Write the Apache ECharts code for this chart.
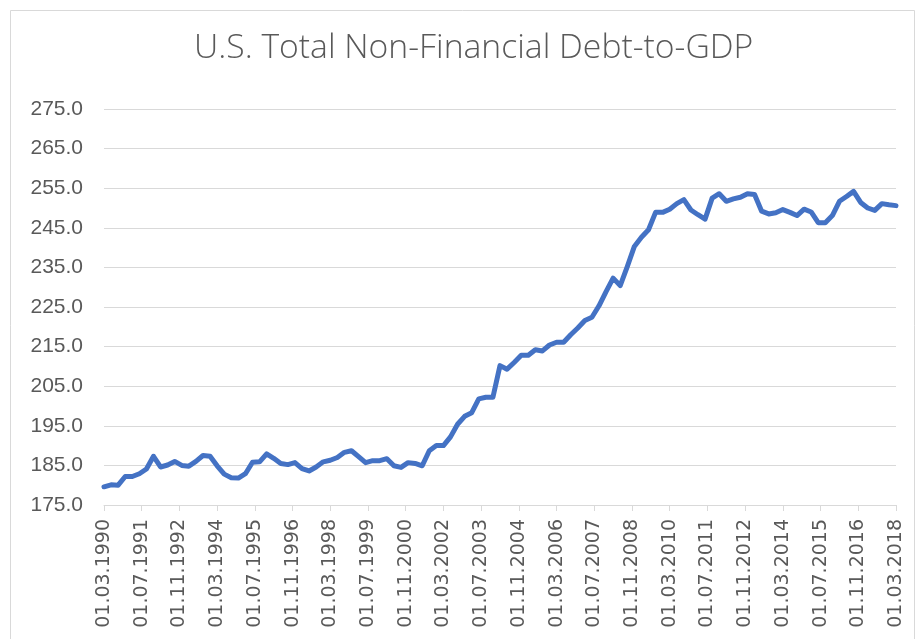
<!DOCTYPE html>
<html>
<head>
<meta charset="utf-8">
<script src="https://cdn.jsdelivr.net/npm/echarts@6/dist/echarts.min.js"></script>
<style>html,body{margin:0;padding:0;background:#fff}#c{width:915px;height:639px}</style>
</head>
<body>
<div id="c"></div>
<script>
var chartTitle = 'U.S. Total Non-Financial Debt-to-GDP';
var startYear = 1990, startMonth = 3, endYear = 2018, endMonth = 3;
var yTicks = [175, 275, 10];
// quarterly values, 01.03.1990 ... 01.03.2018
var debtToGdp = [
  179.6, 180.1, 180.0, 182.2, 182.2, 182.9, 184.1, 187.3, 184.6, 185.1,
  186.0, 185.0, 184.8, 186.0, 187.5, 187.3, 184.9, 182.8, 181.9, 181.8,
  182.9, 185.8, 185.9, 187.9, 186.8, 185.5, 185.2, 185.7, 184.2, 183.6,
  184.6, 185.9, 186.3, 187.0, 188.3, 188.7, 187.2, 185.7, 186.2, 186.2,
  186.7, 184.9, 184.5, 185.7, 185.5, 184.9, 188.7, 190.0, 190.0, 192.2,
  195.4, 197.4, 198.3, 201.8, 202.2, 202.2, 210.2, 209.3, 211.0, 212.8,
  212.8, 214.2, 213.9, 215.4, 216.1, 216.1, 218.0, 219.7, 221.6, 222.4,
  225.3, 228.9, 232.3, 230.4, 235.2, 240.3, 242.6, 244.5, 248.9, 248.9,
  249.7, 251.1, 252.1, 249.5, 248.3, 247.2, 252.5, 253.6, 251.7, 252.3,
  252.7, 253.6, 253.4, 249.2, 248.5, 248.8, 249.6, 248.9, 248.1, 249.7,
  249.0, 246.3, 246.3, 248.1, 251.7, 252.9, 254.2, 251.4, 250.0, 249.4,
  251.1, 250.8, 250.6
];

// monthly categories
var months = [];
var y = startYear, m = startMonth;
while (y < endYear || (y === endYear && m <= endMonth)) {
  months.push('01.' + (m < 10 ? '0' + m : '' + m) + '.' + y);
  m++; if (m > 12) { m = 1; y++; }
}
var seriesData = months.map(function (d, i) {
  return (i % 3 === 0) ? debtToGdp[i / 3] : null;
});

var chart = echarts.init(document.getElementById('c'));
chart.setOption({
  animation: false,
  backgroundColor: '#ffffff',
  title: {
    text: chartTitle,
    left: 189,
    top: 26,
    textStyle: { fontFamily: 'Open Sans', fontWeight: 300, fontSize: 33.7, color: '#595959' }
  },
  graphic: [{
    type: 'rect', silent: true, z: -1,
    shape: { x: 10.5, y: 10.5, width: 904, height: 640 },
    style: { fill: 'none', stroke: '#d9d9d9', lineWidth: 1 }
  }],
  grid: { left: 104, right: 19, top: 109, bottom: 134, containLabel: false },
  xAxis: {
    type: 'category',
    data: months,
    boundaryGap: false,
    axisLine: { show: true, lineStyle: { color: '#d9d9d9', width: 1 } },
    axisTick: { show: true, interval: 15, length: 6, lineStyle: { color: '#d9d9d9' } },
    axisLabel: {
      interval: 15, rotate: 90, margin: 14,
      fontFamily: 'DejaVu Sans', fontSize: 19, color: '#595959'
    },
    splitLine: { show: false }
  },
  yAxis: {
    type: 'value',
    min: yTicks[0], max: yTicks[1], interval: yTicks[2],
    axisLine: { show: false },
    axisTick: { show: false },
    axisLabel: {
      margin: 21,
      fontFamily: 'Liberation Sans', fontSize: 21, color: '#595959',
      formatter: function (v) { return v.toFixed(1); }
    },
    splitLine: { lineStyle: { color: '#d9d9d9', width: 1 } }
  },
  series: [{
    type: 'line',
    data: seriesData,
    connectNulls: true,
    showSymbol: false,
    symbol: 'none',
    lineStyle: { color: '#4472C4', width: 5, join: 'round', cap: 'round' },
    itemStyle: { color: '#4472C4' }
  }]
});
</script>
</body>
</html>
